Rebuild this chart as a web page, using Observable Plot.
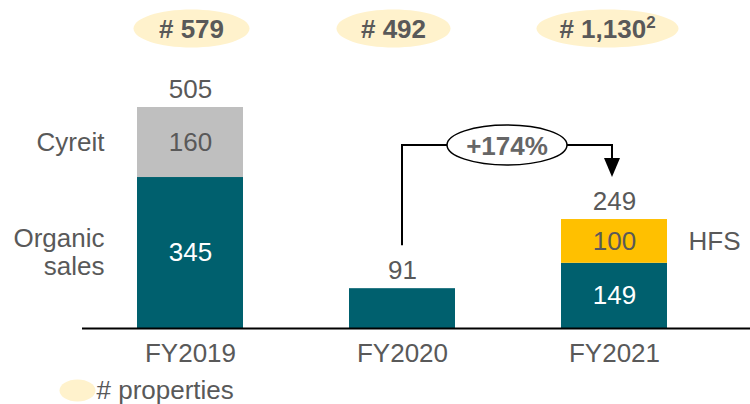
<!DOCTYPE html>
<html><head><meta charset="utf-8">
<script src="https://cdn.jsdelivr.net/npm/d3@7"></script>
<script src="https://cdn.jsdelivr.net/npm/@observablehq/plot@0.6"></script>
<style>html,body{margin:0;padding:0;background:#fff} svg{display:block}</style>
</head><body><div id="chart"></div>
<script>
// ---- data ----
const categories = ["FY2019", "FY2020", "FY2021"];
const organicSales = [345, 91, 149];
const cyreit = [160, 0, 0];
const hfs = [0, 0, 100];
const totals = [505, 91, 249];
const properties = ["# 579", "# 492", "# 1,130"];
const propertyNotes = ["", "", "2"];
const segments = ["Organic sales", "Cyreit", "HFS"];
const segmentColors = ["#00606E", "#BFBFBF", "#FFC000"];
const growthLabel = "+174%";
const legendLabel = "# properties";

const rows = [];
categories.forEach((c, i) => {
  rows.push({year: c, segment: "Organic sales", value: organicSales[i]});
  if (cyreit[i]) rows.push({year: c, segment: "Cyreit", value: cyreit[i]});
  if (hfs[i]) rows.push({year: c, segment: "HFS", value: hfs[i]});
});
const multi = new Set(categories.filter((c, i) => cyreit[i] + hfs[i] > 0));

// ---- styles ----
const grey = "#595959";
const badgeShift = [1, -9, -7];
const badgeRx = [58, 57, 71];
const ellipseSymbol = (rx, ry) => ({
  draw(ctx) {
    const k = 0.5522847498;
    ctx.moveTo(rx, 0);
    ctx.bezierCurveTo(rx, ry * k, rx * k, ry, 0, ry);
    ctx.bezierCurveTo(-rx * k, ry, -rx, ry * k, -rx, 0);
    ctx.bezierCurveTo(-rx, -ry * k, -rx * k, -ry, 0, -ry);
    ctx.bezierCurveTo(rx * k, -ry, rx, -ry * k, rx, 0);
    ctx.closePath();
  }
});
const stackOpts = {x: "year", y: "value", z: "segment", order: segments};

const badgeMarks = categories.flatMap((c, i) => [
  Plot.dot([c], {x: d => d, frameAnchor: "top", dx: badgeShift[i], dy: 28, r: 10, symbol: ellipseSymbol(badgeRx[i], 19), fill: "#FFF2CC"}),
  Plot.text([properties[i]], {x: () => c, text: d => d, frameAnchor: "top", lineAnchor: "middle", dx: badgeShift[i], dy: 29, fontWeight: "bold", fill: grey})
]);

const chart = Plot.plot({
  width: 750, height: 404,
  marginTop: 0, marginRight: 0, marginBottom: 76, marginLeft: 82,
  x: {domain: categories, range: [30, 773.5], padding: 0.5, axis: null},
  y: {domain: [0, 505], range: [328, 107], axis: null},
  color: {domain: segments, range: segmentColors},
  style: {fontFamily: "'Liberation Sans', Arial, sans-serif", fontSize: "26px", color: grey, background: "#fff"},
  marks: [
    Plot.barY(rows, {...stackOpts, fill: "segment"}),
    Plot.ruleY([0], {stroke: "#000", strokeWidth: 2}),
    // inside labels
    Plot.text(rows, Plot.stackY({...stackOpts, text: d => multi.has(d.year) && d.segment === "Organic sales" ? String(d.value) : "", fill: "#fff"})),
    Plot.text(rows, Plot.stackY({...stackOpts, text: d => multi.has(d.year) && d.segment !== "Organic sales" ? String(d.value) : "", fill: grey})),
    // side labels
    Plot.text(rows, Plot.stackY({...stackOpts, text: d => d.year === categories[0] ? (d.segment === "Organic sales" ? "Organic\nsales" : d.segment) : "", fill: grey, textAnchor: "end", dx: -86, dy: -1, lineHeight: 1.08})),
    Plot.text(rows, Plot.stackY({...stackOpts, text: d => d.segment === "HFS" ? d.segment : "", fill: grey, textAnchor: "start", dx: 74})),
    // totals
    Plot.text(categories, {x: d => d, y: (d, i) => totals[i], text: (d, i) => String(totals[i]), dy: -18, fill: grey}),
    // category labels
    Plot.text(categories, {x: d => d, y: d => 0, text: d => d, dy: 25, fill: grey}),
    // properties badges
    ...badgeMarks,
    // legend
    Plot.dot([legendLabel], {frameAnchor: "bottom-left", dx: -5, dy: 62, r: 10, symbol: ellipseSymbol(18, 11), fill: "#FFF2CC"}),
    Plot.text([legendLabel], {frameAnchor: "bottom-left", textAnchor: "start", lineAnchor: "middle", dx: 14, dy: 62, text: d => d, fill: grey})
  ]
});
document.getElementById("chart").appendChild(chart);

// footnote superscripts on badge labels
d3.select(chart).selectAll("text").each(function () {
  const i = properties.indexOf(this.textContent);
  if (i >= 0 && propertyNotes[i]) {
    d3.select(this).append("tspan").attr("font-size", "17px").attr("dy", "-0.55em").text(propertyNotes[i]);
  }
});

// growth annotation, positioned from Plot's scales
const sx = chart.scale("x"), sy = chart.scale("y");
const cx = c => sx.apply(c) + sx.bandwidth / 2;
const g = d3.select(chart).append("g");
const x0 = cx(categories[1]), x1 = cx(categories[2]) - 2;
const yTop = sy.apply(totals[0]) + 38;
const yBottom = sy.apply(totals[1]) - 43;
const yTip = sy.apply(totals[2]) - 42;
const mx = (x0 + x1) / 2;
g.append("path").attr("d", `M${x0},${yBottom}V${yTop}H${x1}V${yTip - 18}`)
  .attr("fill", "none").attr("stroke", "#000").attr("stroke-width", 2);
g.append("path").attr("d", `M${x1 - 8},${yTip - 19}L${x1 + 8},${yTip - 19}L${x1},${yTip}Z`).attr("fill", "#000");
g.append("ellipse").attr("cx", mx).attr("cy", yTop).attr("rx", 60).attr("ry", 20)
  .attr("fill", "#fff").attr("stroke", "#000").attr("stroke-width", 1.5);
g.append("text").attr("x", mx).attr("y", yTop + 1).attr("text-anchor", "middle").attr("dominant-baseline", "central")
  .attr("font-weight", "bold").attr("fill", "#666").attr("font-size", 26).text(growthLabel);
</script>
</body></html>
